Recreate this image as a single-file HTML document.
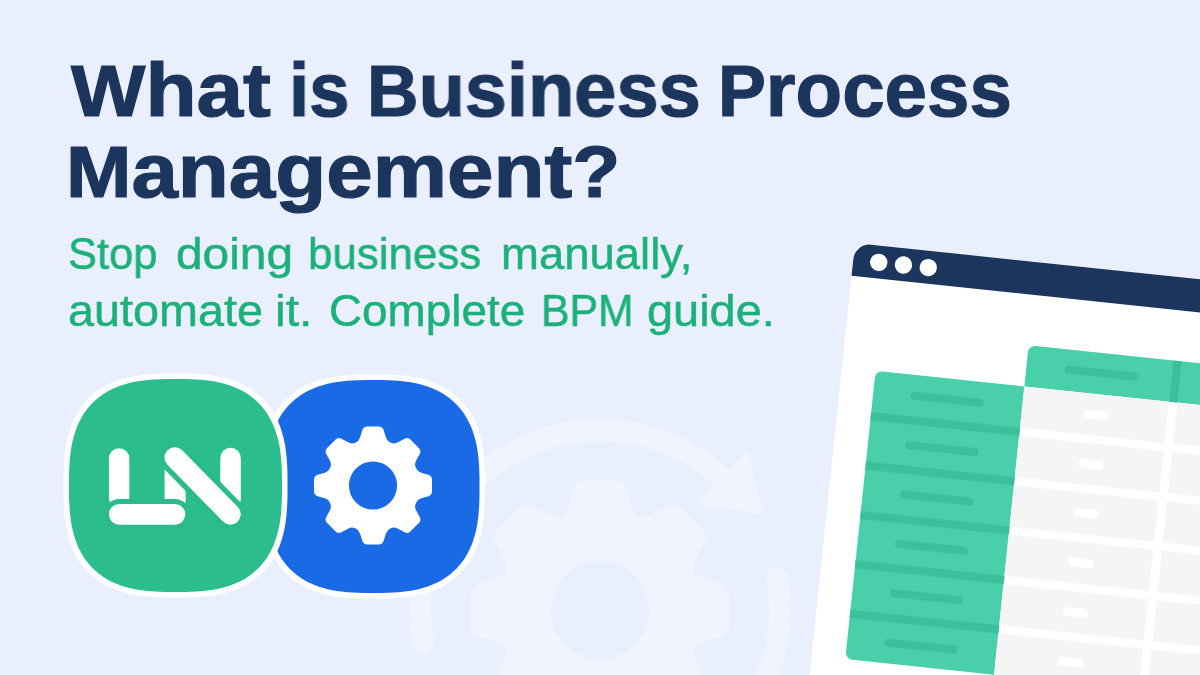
<!DOCTYPE html>
<html lang="en">
<head>
<meta charset="utf-8">
<title>What is Business Process Management?</title>
<style>
html,body{margin:0;padding:0}
body{width:1200px;height:675px;overflow:hidden;background:#e9effd;position:relative;font-family:"Liberation Sans",sans-serif}
#art{position:absolute;left:0;top:0;width:1200px;height:675px;display:block}
.blk{position:absolute;left:0;top:0;width:1200px;height:0;margin:0;padding:0;font-size:0;line-height:0}
.h{position:absolute;display:block;margin:0;white-space:nowrap;font-weight:bold;font-size:76.0px;line-height:1;color:#1c355d;-webkit-text-stroke:1.2px #1c355d;transform-origin:0 0;will-change:transform}
.c{font-size:0.9408em}
.s{position:absolute;display:block;margin:0;white-space:nowrap;font-weight:normal;font-size:45.0px;line-height:1;color:#1cb07a;-webkit-text-stroke:0.5px #1cb07a;transform-origin:0 0;will-change:transform}
</style>
</head>
<body>
<svg id="art" width="1200" height="675" viewBox="0 0 1200 675">
<rect width="1200" height="675" fill="#e9effd"/>
<g id="watermark">
<path d="M561.06 515.98 Q566.03 513.92 568.53 505.52 L573.52 488.68 Q575.89 480.70 584.22 480.70 L615.78 480.70 Q624.11 480.70 626.48 488.68 L631.47 505.52 Q633.97 513.92 638.94 515.98 L638.94 515.98 Q643.92 518.04 651.62 513.86 L667.06 505.49 Q674.38 501.53 680.27 507.41 L702.59 529.73 Q708.47 535.62 704.51 542.94 L696.14 558.38 Q691.96 566.08 694.02 571.06 L694.02 571.06 Q696.08 576.03 704.48 578.53 L721.32 583.52 Q729.30 585.89 729.30 594.22 L729.30 625.78 Q729.30 634.11 721.32 636.48 L704.48 641.47 Q696.08 643.97 694.02 648.94 L694.02 648.94 Q691.96 653.92 696.14 661.62 L704.51 677.06 Q708.47 684.38 702.59 690.27 L680.27 712.59 Q674.38 718.47 667.06 714.51 L651.62 706.14 Q643.92 701.96 638.94 704.02 L638.94 704.02 Q633.97 706.08 631.47 714.48 L626.48 731.32 Q624.11 739.30 615.78 739.30 L584.22 739.30 Q575.89 739.30 573.52 731.32 L568.53 714.48 Q566.03 706.08 561.06 704.02 L561.06 704.02 Q556.08 701.96 548.38 706.14 L532.94 714.51 Q525.62 718.47 519.73 712.59 L497.41 690.27 Q491.53 684.38 495.49 677.06 L503.86 661.62 Q508.04 653.92 505.98 648.94 L505.98 648.94 Q503.92 643.97 495.52 641.47 L478.68 636.48 Q470.70 634.11 470.70 625.78 L470.70 594.22 Q470.70 585.89 478.68 583.52 L495.52 578.53 Q503.92 576.03 505.98 571.06 L505.98 571.06 Q508.04 566.08 503.86 558.38 L495.49 542.94 Q491.53 535.62 497.41 529.73 L519.73 507.41 Q525.62 501.53 532.94 505.49 L548.38 513.86 Q556.08 518.04 561.06 515.98Z M551.00 610.00 a49.00 49.00 0 1 0 98.00 0 a49.00 49.00 0 1 0 -98.00 0Z" fill="#f0f4fe" fill-rule="evenodd"/>
<path d="M423.0 642.8 A180 180 0 0 1 721.6 477.3" fill="none" stroke="#f0f4fe" stroke-width="22" stroke-linecap="round"/>
<path d="M777.0 577.5 A180 180 0 0 1 510.0 765.9" fill="none" stroke="#f0f4fe" stroke-width="22" stroke-linecap="round"/>
<path d="M-32 0 L32 0 L0 47Z" fill="#f0f4fe" stroke="#f0f4fe" stroke-width="6" stroke-linejoin="round" transform="translate(600.0 610.0) rotate(-46.5) translate(181 0)"/>
</g>
<g id="window">
<g transform="translate(855.0 243.0) rotate(6.0)">
<path d="M0 16 A16 16 0 0 1 16 0 H420 V520 H0Z" fill="#fff"/>
<path d="M0 16 A16 16 0 0 1 16 0 H420 V33 H0Z" fill="#1c355d"/>
<circle cx="25.6" cy="16.8" r="8.7" fill="#fff"/>
<circle cx="50.5" cy="16.8" r="8.7" fill="#fff"/>
<circle cx="75.4" cy="16.8" r="8.7" fill="#fff"/>
<path d="M183.4 90.6 a7 7 0 0 1 7 -7 H420 V125.0 H183.4Z" fill="#4acfab"/>
<rect x="329" y="83.6" width="8.3" height="41.4" fill="#3dbf9c"/>
<rect x="221.5" y="99.60" width="73.5" height="8" rx="4" fill="#3dbf9c"/>
<path d="M33.8 132.0 a7 7 0 0 1 7 -7 H183.39999999999998 V414.75 H40.8 a7 7 0 0 1 -7 -7Z" fill="#4acfab"/>
<rect x="33.8" y="166.5" width="149.6" height="8.149999999999999" fill="#3dbf9c"/>
<rect x="33.8" y="216.2" width="149.6" height="8.149999999999999" fill="#3dbf9c"/>
<rect x="33.8" y="265.8" width="149.6" height="8.149999999999999" fill="#3dbf9c"/>
<rect x="33.8" y="315.4" width="149.6" height="8.149999999999999" fill="#3dbf9c"/>
<rect x="33.8" y="365.1" width="149.6" height="8.149999999999999" fill="#3dbf9c"/>
<rect x="71.25" y="141.75" width="73.5" height="8" rx="4" fill="#3dbf9c"/>
<rect x="71.25" y="191.40" width="73.5" height="8" rx="4" fill="#3dbf9c"/>
<rect x="71.25" y="241.05" width="73.5" height="8" rx="4" fill="#3dbf9c"/>
<rect x="71.25" y="290.70" width="73.5" height="8" rx="4" fill="#3dbf9c"/>
<rect x="71.25" y="340.35" width="73.5" height="8" rx="4" fill="#3dbf9c"/>
<rect x="71.25" y="390.00" width="73.5" height="8" rx="4" fill="#3dbf9c"/>
<rect x="183.4" y="125.0" width="145.4" height="41.5" fill="#f5f5f5"/>
<rect x="245.5" y="141.2" width="25" height="9" rx="4.5" fill="#fff"/>
<rect x="183.4" y="174.7" width="145.4" height="41.5" fill="#f5f5f5"/>
<rect x="245.5" y="190.9" width="25" height="9" rx="4.5" fill="#fff"/>
<rect x="183.4" y="224.3" width="145.4" height="41.5" fill="#f5f5f5"/>
<rect x="245.5" y="240.6" width="25" height="9" rx="4.5" fill="#fff"/>
<rect x="183.4" y="273.9" width="145.4" height="41.5" fill="#f5f5f5"/>
<rect x="245.5" y="290.2" width="25" height="9" rx="4.5" fill="#fff"/>
<rect x="183.4" y="323.6" width="145.4" height="41.5" fill="#f5f5f5"/>
<rect x="245.5" y="339.9" width="25" height="9" rx="4.5" fill="#fff"/>
<rect x="183.4" y="373.2" width="145.4" height="41.5" fill="#f5f5f5"/>
<rect x="245.5" y="389.5" width="25" height="9" rx="4.5" fill="#fff"/>
<rect x="183.4" y="422.9" width="145.4" height="41.5" fill="#f5f5f5"/>
<rect x="245.5" y="439.1" width="25" height="9" rx="4.5" fill="#fff"/>
<rect x="337.3" y="125.0" width="145.4" height="41.5" fill="#f5f5f5"/>
<rect x="399.4" y="141.2" width="25" height="9" rx="4.5" fill="#fff"/>
<rect x="337.3" y="174.7" width="145.4" height="41.5" fill="#f5f5f5"/>
<rect x="399.4" y="190.9" width="25" height="9" rx="4.5" fill="#fff"/>
<rect x="337.3" y="224.3" width="145.4" height="41.5" fill="#f5f5f5"/>
<rect x="399.4" y="240.6" width="25" height="9" rx="4.5" fill="#fff"/>
<rect x="337.3" y="273.9" width="145.4" height="41.5" fill="#f5f5f5"/>
<rect x="399.4" y="290.2" width="25" height="9" rx="4.5" fill="#fff"/>
<rect x="337.3" y="323.6" width="145.4" height="41.5" fill="#f5f5f5"/>
<rect x="399.4" y="339.9" width="25" height="9" rx="4.5" fill="#fff"/>
<rect x="337.3" y="373.2" width="145.4" height="41.5" fill="#f5f5f5"/>
<rect x="399.4" y="389.5" width="25" height="9" rx="4.5" fill="#fff"/>
<rect x="337.3" y="422.9" width="145.4" height="41.5" fill="#f5f5f5"/>
<rect x="399.4" y="439.1" width="25" height="9" rx="4.5" fill="#fff"/>
</g>
</g>
<g id="icons">
<path d="M485.0 486.5 L485.0 496.3 L484.8 502.7 L484.6 508.2 L484.2 513.2 L483.8 517.9 L483.2 522.2 L482.6 526.4 L481.8 530.4 L481.0 534.2 L480.0 537.8 L479.0 541.3 L477.9 544.7 L476.6 548.0 L475.3 551.1 L473.9 554.2 L472.3 557.1 L470.7 559.9 L469.0 562.6 L467.2 565.2 L465.3 567.7 L463.3 570.1 L461.1 572.4 L458.9 574.6 L456.6 576.8 L454.2 578.8 L451.7 580.7 L449.1 582.5 L446.4 584.2 L443.6 585.8 L440.7 587.4 L437.6 588.8 L434.5 590.1 L431.2 591.4 L427.8 592.5 L424.3 593.5 L420.7 594.5 L416.9 595.3 L412.9 596.1 L408.7 596.7 L404.4 597.3 L399.7 597.7 L394.7 598.1 L389.2 598.3 L382.8 598.5 L373.0 598.5 L363.2 598.5 L356.8 598.3 L351.3 598.1 L346.3 597.7 L341.6 597.3 L337.3 596.7 L333.1 596.1 L329.1 595.3 L325.3 594.5 L321.7 593.5 L318.2 592.5 L314.8 591.4 L311.5 590.1 L308.4 588.8 L305.3 587.4 L302.4 585.8 L299.6 584.2 L296.9 582.5 L294.3 580.7 L291.8 578.8 L289.4 576.8 L287.1 574.6 L284.9 572.4 L282.7 570.1 L280.7 567.7 L278.8 565.2 L277.0 562.6 L275.3 559.9 L273.7 557.1 L272.1 554.2 L270.7 551.1 L269.4 548.0 L268.1 544.7 L267.0 541.3 L266.0 537.8 L265.0 534.2 L264.2 530.4 L263.4 526.4 L262.8 522.2 L262.2 517.9 L261.8 513.2 L261.4 508.2 L261.2 502.7 L261.0 496.3 L261.0 486.5 L261.0 476.7 L261.2 470.3 L261.4 464.8 L261.8 459.8 L262.2 455.1 L262.8 450.8 L263.4 446.6 L264.2 442.6 L265.0 438.8 L266.0 435.2 L267.0 431.7 L268.1 428.3 L269.4 425.0 L270.7 421.9 L272.1 418.8 L273.7 415.9 L275.3 413.1 L277.0 410.4 L278.8 407.8 L280.7 405.3 L282.7 402.9 L284.9 400.6 L287.1 398.4 L289.4 396.2 L291.8 394.2 L294.3 392.3 L296.9 390.5 L299.6 388.8 L302.4 387.2 L305.3 385.6 L308.4 384.2 L311.5 382.9 L314.8 381.6 L318.2 380.5 L321.7 379.5 L325.3 378.5 L329.1 377.7 L333.1 376.9 L337.3 376.3 L341.6 375.7 L346.3 375.3 L351.3 374.9 L356.8 374.7 L363.2 374.5 L373.0 374.5 L382.8 374.5 L389.2 374.7 L394.7 374.9 L399.7 375.3 L404.4 375.7 L408.7 376.3 L412.9 376.9 L416.9 377.7 L420.7 378.5 L424.3 379.5 L427.8 380.5 L431.2 381.6 L434.5 382.9 L437.6 384.2 L440.7 385.6 L443.6 387.2 L446.4 388.8 L449.1 390.5 L451.7 392.3 L454.2 394.2 L456.6 396.2 L458.9 398.4 L461.1 400.6 L463.3 402.9 L465.3 405.3 L467.2 407.8 L469.0 410.4 L470.7 413.1 L472.3 415.9 L473.9 418.8 L475.3 421.9 L476.6 425.0 L477.9 428.3 L479.0 431.7 L480.0 435.2 L481.0 438.8 L481.8 442.6 L482.6 446.6 L483.2 450.8 L483.8 455.1 L484.2 459.8 L484.6 464.8 L484.8 470.3 L485.0 476.7Z" fill="#fff"/>
<path d="M479.5 486.5 L479.5 495.8 L479.3 501.9 L479.1 507.1 L478.7 511.9 L478.3 516.3 L477.8 520.5 L477.2 524.4 L476.5 528.2 L475.7 531.8 L474.8 535.3 L473.8 538.6 L472.7 541.9 L471.5 545.0 L470.3 547.9 L468.9 550.8 L467.5 553.6 L465.9 556.3 L464.3 558.9 L462.6 561.3 L460.7 563.7 L458.8 566.0 L456.8 568.2 L454.7 570.3 L452.5 572.3 L450.2 574.2 L447.8 576.1 L445.4 577.8 L442.8 579.4 L440.1 581.0 L437.3 582.4 L434.4 583.8 L431.5 585.0 L428.4 586.2 L425.1 587.3 L421.8 588.3 L418.3 589.2 L414.7 590.0 L410.9 590.7 L407.0 591.3 L402.8 591.8 L398.4 592.2 L393.6 592.6 L388.4 592.8 L382.3 593.0 L373.0 593.0 L363.7 593.0 L357.6 592.8 L352.4 592.6 L347.6 592.2 L343.2 591.8 L339.0 591.3 L335.1 590.7 L331.3 590.0 L327.7 589.2 L324.2 588.3 L320.9 587.3 L317.6 586.2 L314.5 585.0 L311.6 583.8 L308.7 582.4 L305.9 581.0 L303.2 579.4 L300.6 577.8 L298.2 576.1 L295.8 574.2 L293.5 572.3 L291.3 570.3 L289.2 568.2 L287.2 566.0 L285.3 563.7 L283.4 561.3 L281.7 558.9 L280.1 556.3 L278.5 553.6 L277.1 550.8 L275.7 547.9 L274.5 545.0 L273.3 541.9 L272.2 538.6 L271.2 535.3 L270.3 531.8 L269.5 528.2 L268.8 524.4 L268.2 520.5 L267.7 516.3 L267.3 511.9 L266.9 507.1 L266.7 501.9 L266.5 495.8 L266.5 486.5 L266.5 477.2 L266.7 471.1 L266.9 465.9 L267.3 461.1 L267.7 456.7 L268.2 452.5 L268.8 448.6 L269.5 444.8 L270.3 441.2 L271.2 437.7 L272.2 434.4 L273.3 431.1 L274.5 428.0 L275.7 425.1 L277.1 422.2 L278.5 419.4 L280.1 416.7 L281.7 414.1 L283.4 411.7 L285.3 409.3 L287.2 407.0 L289.2 404.8 L291.3 402.7 L293.5 400.7 L295.8 398.8 L298.2 396.9 L300.6 395.2 L303.2 393.6 L305.9 392.0 L308.7 390.6 L311.6 389.2 L314.5 388.0 L317.6 386.8 L320.9 385.7 L324.2 384.7 L327.7 383.8 L331.3 383.0 L335.1 382.3 L339.0 381.7 L343.2 381.2 L347.6 380.8 L352.4 380.4 L357.6 380.2 L363.7 380.0 L373.0 380.0 L382.3 380.0 L388.4 380.2 L393.6 380.4 L398.4 380.8 L402.8 381.2 L407.0 381.7 L410.9 382.3 L414.7 383.0 L418.3 383.8 L421.8 384.7 L425.1 385.7 L428.4 386.8 L431.5 388.0 L434.4 389.2 L437.3 390.6 L440.1 392.0 L442.8 393.6 L445.4 395.2 L447.8 396.9 L450.2 398.8 L452.5 400.7 L454.7 402.7 L456.8 404.8 L458.8 407.0 L460.7 409.3 L462.6 411.7 L464.3 414.1 L465.9 416.7 L467.5 419.4 L468.9 422.2 L470.3 425.1 L471.5 428.0 L472.7 431.1 L473.8 434.4 L474.8 437.7 L475.7 441.2 L476.5 444.8 L477.2 448.6 L477.8 452.5 L478.3 456.7 L478.7 461.1 L479.1 465.9 L479.3 471.1 L479.5 477.2Z" fill="#1b6ae5"/>
<path d="M355.30 442.69 Q359.00 441.16 360.15 437.33 L362.31 430.14 Q363.40 426.50 367.20 426.50 L378.80 426.50 Q382.60 426.50 383.69 430.14 L385.85 437.33 Q387.00 441.16 390.70 442.69 L390.76 442.71 Q394.46 444.25 397.98 442.35 L404.58 438.79 Q407.93 436.99 410.62 439.68 L418.82 447.88 Q421.51 450.57 419.71 453.92 L416.15 460.52 Q414.25 464.04 415.79 467.74 L415.81 467.80 Q417.34 471.50 421.17 472.65 L428.36 474.81 Q432.00 475.90 432.00 479.70 L432.00 491.30 Q432.00 495.10 428.36 496.19 L421.17 498.35 Q417.34 499.50 415.81 503.20 L415.79 503.26 Q414.25 506.96 416.15 510.48 L419.71 517.08 Q421.51 520.43 418.82 523.12 L410.62 531.32 Q407.93 534.01 404.58 532.21 L397.98 528.65 Q394.46 526.75 390.76 528.29 L390.70 528.31 Q387.00 529.84 385.85 533.67 L383.69 540.86 Q382.60 544.50 378.80 544.50 L367.20 544.50 Q363.40 544.50 362.31 540.86 L360.15 533.67 Q359.00 529.84 355.30 528.31 L355.24 528.29 Q351.54 526.75 348.02 528.65 L341.42 532.21 Q338.07 534.01 335.38 531.32 L327.18 523.12 Q324.49 520.43 326.29 517.08 L329.85 510.48 Q331.75 506.96 330.21 503.26 L330.19 503.20 Q328.66 499.50 324.83 498.35 L317.64 496.19 Q314.00 495.10 314.00 491.30 L314.00 479.70 Q314.00 475.90 317.64 474.81 L324.83 472.65 Q328.66 471.50 330.19 467.80 L330.21 467.74 Q331.75 464.04 329.85 460.52 L326.29 453.92 Q324.49 450.57 327.18 447.88 L335.38 439.68 Q338.07 436.99 341.42 438.79 L348.02 442.35 Q351.54 444.25 355.24 442.71Z M348.90 485.50 a24.10 24.10 0 1 0 48.20 0 a24.10 24.10 0 1 0 -48.20 0Z" fill="#fff" fill-rule="evenodd"/>
<path d="M287.5 485.5 L287.5 495.3 L287.3 501.7 L287.1 507.2 L286.7 512.2 L286.3 516.9 L285.7 521.2 L285.1 525.4 L284.3 529.4 L283.5 533.2 L282.5 536.8 L281.5 540.3 L280.4 543.7 L279.1 547.0 L277.8 550.1 L276.4 553.2 L274.8 556.1 L273.2 558.9 L271.5 561.6 L269.7 564.2 L267.8 566.7 L265.8 569.1 L263.6 571.4 L261.4 573.6 L259.1 575.8 L256.7 577.8 L254.2 579.7 L251.6 581.5 L248.9 583.2 L246.1 584.8 L243.2 586.4 L240.1 587.8 L237.0 589.1 L233.7 590.4 L230.3 591.5 L226.8 592.5 L223.2 593.5 L219.4 594.3 L215.4 595.1 L211.2 595.7 L206.9 596.3 L202.2 596.7 L197.2 597.1 L191.7 597.3 L185.3 597.5 L175.5 597.5 L165.7 597.5 L159.3 597.3 L153.8 597.1 L148.8 596.7 L144.1 596.3 L139.8 595.7 L135.6 595.1 L131.6 594.3 L127.8 593.5 L124.2 592.5 L120.7 591.5 L117.3 590.4 L114.0 589.1 L110.9 587.8 L107.8 586.4 L104.9 584.8 L102.1 583.2 L99.4 581.5 L96.8 579.7 L94.3 577.8 L91.9 575.8 L89.6 573.6 L87.4 571.4 L85.2 569.1 L83.2 566.7 L81.3 564.2 L79.5 561.6 L77.8 558.9 L76.2 556.1 L74.6 553.2 L73.2 550.1 L71.9 547.0 L70.6 543.7 L69.5 540.3 L68.5 536.8 L67.5 533.2 L66.7 529.4 L65.9 525.4 L65.3 521.2 L64.7 516.9 L64.3 512.2 L63.9 507.2 L63.7 501.7 L63.5 495.3 L63.5 485.5 L63.5 475.7 L63.7 469.3 L63.9 463.8 L64.3 458.8 L64.7 454.1 L65.3 449.8 L65.9 445.6 L66.7 441.6 L67.5 437.8 L68.5 434.2 L69.5 430.7 L70.6 427.3 L71.9 424.0 L73.2 420.9 L74.6 417.8 L76.2 414.9 L77.8 412.1 L79.5 409.4 L81.3 406.8 L83.2 404.3 L85.2 401.9 L87.4 399.6 L89.6 397.4 L91.9 395.2 L94.3 393.2 L96.8 391.3 L99.4 389.5 L102.1 387.8 L104.9 386.2 L107.8 384.6 L110.9 383.2 L114.0 381.9 L117.3 380.6 L120.7 379.5 L124.2 378.5 L127.8 377.5 L131.6 376.7 L135.6 375.9 L139.8 375.3 L144.1 374.7 L148.8 374.3 L153.8 373.9 L159.3 373.7 L165.7 373.5 L175.5 373.5 L185.3 373.5 L191.7 373.7 L197.2 373.9 L202.2 374.3 L206.9 374.7 L211.2 375.3 L215.4 375.9 L219.4 376.7 L223.2 377.5 L226.8 378.5 L230.3 379.5 L233.7 380.6 L237.0 381.9 L240.1 383.2 L243.2 384.6 L246.1 386.2 L248.9 387.8 L251.6 389.5 L254.2 391.3 L256.7 393.2 L259.1 395.2 L261.4 397.4 L263.6 399.6 L265.8 401.9 L267.8 404.3 L269.7 406.8 L271.5 409.4 L273.2 412.1 L274.8 414.9 L276.4 417.8 L277.8 420.9 L279.1 424.0 L280.4 427.3 L281.5 430.7 L282.5 434.2 L283.5 437.8 L284.3 441.6 L285.1 445.6 L285.7 449.8 L286.3 454.1 L286.7 458.8 L287.1 463.8 L287.3 469.3 L287.5 475.7Z" fill="#fff"/>
<path d="M282.0 485.5 L282.0 494.8 L281.8 500.9 L281.6 506.1 L281.2 510.9 L280.8 515.3 L280.3 519.5 L279.7 523.4 L279.0 527.2 L278.2 530.8 L277.3 534.3 L276.3 537.6 L275.2 540.9 L274.0 544.0 L272.8 546.9 L271.4 549.8 L270.0 552.6 L268.4 555.3 L266.8 557.9 L265.1 560.3 L263.2 562.7 L261.3 565.0 L259.3 567.2 L257.2 569.3 L255.0 571.3 L252.7 573.2 L250.3 575.1 L247.9 576.8 L245.3 578.4 L242.6 580.0 L239.8 581.4 L236.9 582.8 L234.0 584.0 L230.9 585.2 L227.6 586.3 L224.3 587.3 L220.8 588.2 L217.2 589.0 L213.4 589.7 L209.5 590.3 L205.3 590.8 L200.9 591.2 L196.1 591.6 L190.9 591.8 L184.8 592.0 L175.5 592.0 L166.2 592.0 L160.1 591.8 L154.9 591.6 L150.1 591.2 L145.7 590.8 L141.5 590.3 L137.6 589.7 L133.8 589.0 L130.2 588.2 L126.7 587.3 L123.4 586.3 L120.1 585.2 L117.0 584.0 L114.1 582.8 L111.2 581.4 L108.4 580.0 L105.7 578.4 L103.1 576.8 L100.7 575.1 L98.3 573.2 L96.0 571.3 L93.8 569.3 L91.7 567.2 L89.7 565.0 L87.8 562.7 L85.9 560.3 L84.2 557.9 L82.6 555.3 L81.0 552.6 L79.6 549.8 L78.2 546.9 L77.0 544.0 L75.8 540.9 L74.7 537.6 L73.7 534.3 L72.8 530.8 L72.0 527.2 L71.3 523.4 L70.7 519.5 L70.2 515.3 L69.8 510.9 L69.4 506.1 L69.2 500.9 L69.0 494.8 L69.0 485.5 L69.0 476.2 L69.2 470.1 L69.4 464.9 L69.8 460.1 L70.2 455.7 L70.7 451.5 L71.3 447.6 L72.0 443.8 L72.8 440.2 L73.7 436.7 L74.7 433.4 L75.8 430.1 L77.0 427.0 L78.2 424.1 L79.6 421.2 L81.0 418.4 L82.6 415.7 L84.2 413.1 L85.9 410.7 L87.8 408.3 L89.7 406.0 L91.7 403.8 L93.8 401.7 L96.0 399.7 L98.3 397.8 L100.7 395.9 L103.1 394.2 L105.7 392.6 L108.4 391.0 L111.2 389.6 L114.1 388.2 L117.0 387.0 L120.1 385.8 L123.4 384.7 L126.7 383.7 L130.2 382.8 L133.8 382.0 L137.6 381.3 L141.5 380.7 L145.7 380.2 L150.1 379.8 L154.9 379.4 L160.1 379.2 L166.2 379.0 L175.5 379.0 L184.8 379.0 L190.9 379.2 L196.1 379.4 L200.9 379.8 L205.3 380.2 L209.5 380.7 L213.4 381.3 L217.2 382.0 L220.8 382.8 L224.3 383.7 L227.6 384.7 L230.9 385.8 L234.0 387.0 L236.9 388.2 L239.8 389.6 L242.6 391.0 L245.3 392.6 L247.9 394.2 L250.3 395.9 L252.7 397.8 L255.0 399.7 L257.2 401.7 L259.3 403.8 L261.3 406.0 L263.2 408.3 L265.1 410.7 L266.8 413.1 L268.4 415.7 L270.0 418.4 L271.4 421.2 L272.8 424.1 L274.0 427.0 L275.2 430.1 L276.3 433.4 L277.3 436.7 L278.2 440.2 L279.0 443.8 L279.7 447.6 L280.3 451.5 L280.8 455.7 L281.2 460.1 L281.6 464.9 L281.8 470.1 L282.0 476.2Z" fill="#2bbd8e"/>
<rect x="108.9" y="448.3" width="20.4" height="60" rx="10.2" fill="#fff"/>
<rect x="164.6" y="462" width="21.0" height="46" fill="#fff"/>
<rect x="220.3" y="447.8" width="20.5" height="62" rx="10.2" fill="#fff"/>
<rect x="108.9" y="503.9" width="76.4" height="20.8" rx="10.4" fill="#fff" stroke="#2aba8b" stroke-width="10" paint-order="stroke"/>
<path d="M174.8 457.6 L230.4 514.3" fill="none" stroke="#2aba8b" stroke-width="31.2" stroke-linecap="round"/>
<path d="M174.8 457.6 L230.4 514.3" fill="none" stroke="#fff" stroke-width="20.7" stroke-linecap="round"/>
</g>
</svg>
<h1 class="blk">
<span class="h" style="left:70.55px;top:51.67px;transform:scaleX(1.1019)"><span class=c>W</span>hat</span>
<span class="h" style="left:288.7px;top:51.67px;transform:scaleX(0.9558)">is</span>
<span class="h" style="left:367.01px;top:51.67px;transform:scaleX(0.997)"><span class=c>B</span>usiness</span>
<span class="h" style="left:717.99px;top:51.67px;transform:scaleX(1.0035)"><span class=c>P</span>rocess</span>
<span class="h" style="left:65.61px;top:133.07px;transform:scaleX(1.0986)"><span class=c>M</span>anagement<span class=c>?</span></span>
</h1>
<p class="blk">
<span class="s" style="left:68.07px;top:230.91px;transform:scaleX(0.9663)">Stop</span>
<span class="s" style="left:175.71px;top:230.91px;transform:scaleX(1.0632)">doing</span>
<span class="s" style="left:308.26px;top:230.91px;transform:scaleX(0.9758)">business</span>
<span class="s" style="left:500.77px;top:230.91px;transform:scaleX(1.0109)">manually,</span>
<br>
<span class="s" style="left:68.44px;top:288.41px;transform:scaleX(1.039)">automate</span>
<span class="s" style="left:275.09px;top:288.41px;transform:scaleX(1.0714)">it.</span>
<span class="s" style="left:328.66px;top:288.41px;transform:scaleX(1.019)">Complete</span>
<span class="s" style="left:540.67px;top:288.41px;transform:scaleX(0.9503)">BPM</span>
<span class="s" style="left:646.74px;top:288.41px;transform:scaleX(1.0417)">guide.</span>
</p>
</body>
</html>
